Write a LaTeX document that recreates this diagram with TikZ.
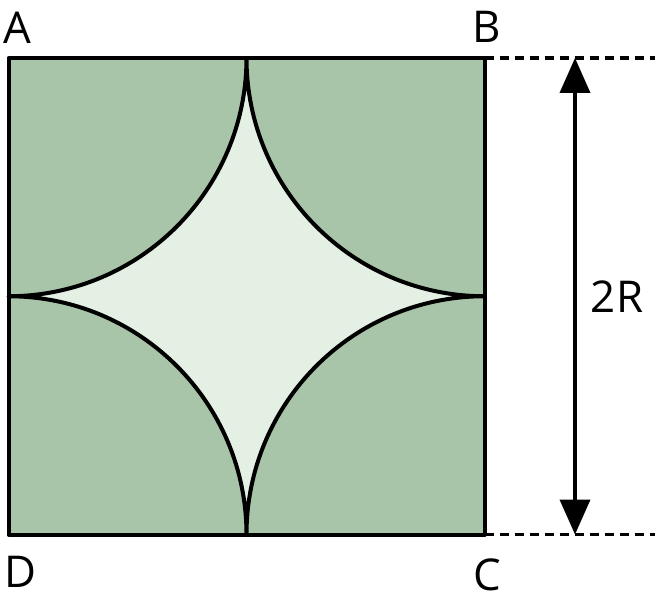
\documentclass[tikz,border=0pt]{standalone}
\usepackage{fontspec}
\setmainfont{Open Sans}
\usetikzlibrary{arrows.meta}
\definecolor{darkfill}{HTML}{A9C5A9}
\definecolor{lightfill}{HTML}{E4F0E4}
\begin{document}
\begin{tikzpicture}[x=1bp,y=-1bp,
  edge/.style={line width=4bp,line join=round},
  dimline/.style={line width=3.8bp,dash pattern=on 9bp off 6bp},
  lbl/.style={font=\fontsize{44}{44}\selectfont,inner sep=0pt,anchor=center}]
\useasboundingbox (0,0) rectangle (657,606);
\coordinate (A) at (8.5,58);
\coordinate (B) at (484.5,58);
\coordinate (C) at (484.5,534.5);
\coordinate (D) at (8.5,534.5);
\coordinate (T) at (246.5,58);
\coordinate (BE) at (655,58);
\coordinate (CE) at (655,534.5);
\coordinate (AT) at (575,58);
\coordinate (AB) at (575,534.5);
\fill[darkfill] (A) rectangle (C);
\filldraw[fill=lightfill,edge] (T) arc[start angle=0,end angle=90,x radius=238,y radius=238.25]
  arc[start angle=-90,end angle=0,x radius=238,y radius=238.25]
  arc[start angle=180,end angle=270,x radius=238,y radius=238.25]
  arc[start angle=90,end angle=180,x radius=238,y radius=238.25] -- cycle;
\draw[edge] (A) rectangle (C);
\draw[dimline] (B) -- (BE);
\draw[dimline] (C) -- (CE);
\draw[line width=3.8bp,{Triangle[length=35bp,width=30bp]}-{Triangle[length=35bp,width=30bp]}] (AT) -- (AB);
\node[lbl] (la) at (17,28) {A};
\node[lbl] (lb) at (487,27) {B};
\node[lbl] (lc) at (487,575) {C};
\node[lbl] (ld) at (20,572) {D};
\node[lbl] (l2r) at (617,297) {2R};
\end{tikzpicture}
\end{document}
